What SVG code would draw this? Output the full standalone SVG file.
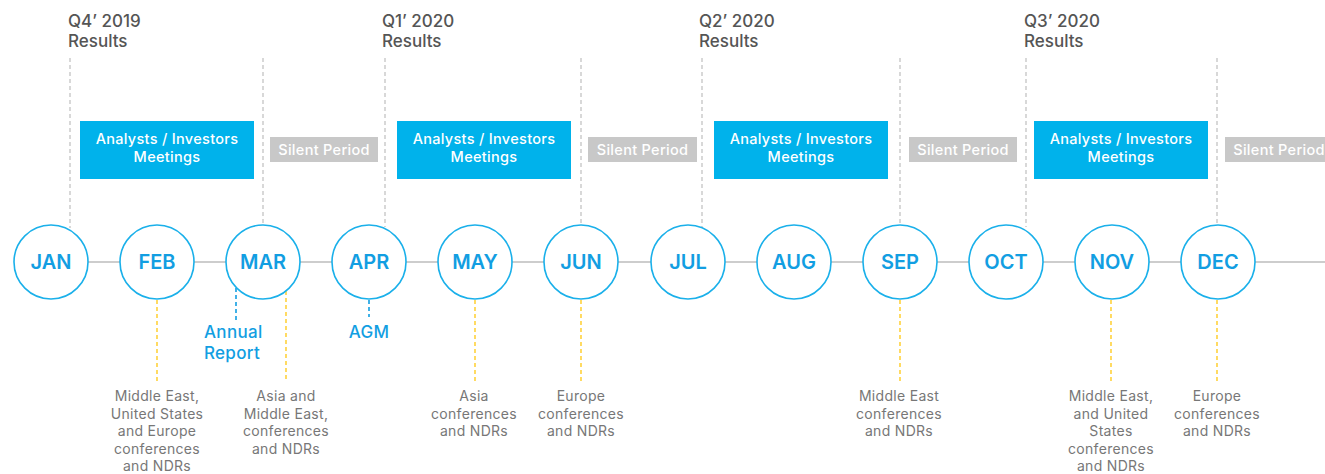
<svg xmlns="http://www.w3.org/2000/svg" width="1325" height="474" viewBox="0 0 1325 474">
<style>
.q{font-family:Inter,"Open Sans",sans-serif;font-size:17px;font-weight:500;fill:#555}
.box{fill:#00b2eb}
.sil{fill:#c8c8c8}
.bt{font-family:Inter,"Open Sans",sans-serif;font-size:14.5px;font-weight:500;fill:#fff;text-anchor:middle;letter-spacing:0.3px}
.circ{fill:#fff;stroke:#1ab0ea;stroke-width:1.6}
.m{font-family:Inter,"Open Sans",sans-serif;font-size:20px;font-weight:600;fill:#129ee2;text-anchor:middle}
.gd{stroke:#c4c4c4;stroke-width:1.3;stroke-dasharray:4 3;fill:none}
.yd{stroke:#ffd23c;stroke-width:1.6;stroke-dasharray:4 3;fill:none}
.bd{stroke:#129ee2;stroke-width:1.6;stroke-dasharray:4 3;fill:none}
.d{font-family:Inter,"Open Sans",sans-serif;font-size:14px;fill:#777;text-anchor:middle;letter-spacing:0.3px}
.ev{font-family:Inter,"Open Sans",sans-serif;font-size:17px;font-weight:500;fill:#129ee2;letter-spacing:0.3px}
</style>
<rect width="1325" height="474" fill="#fff"/>
<g id="connectors">
<line x1="51" y1="262" x2="1325" y2="262" stroke="#bdbdbd" stroke-width="1.6"/>
<path class="gd" d="M70 58V228M263 58V225M385 58V227M581 58V225M702 58V227M900 58V225M1026 58V227M1217 58V225"/>
<path class="yd" d="M157 300V381M286 291V381M475 300V381M581 300V381M900 300V381M1111 300V381M1217 300V381"/>
<path class="bd" d="M236 288V320M369 300V317"/>
</g>
<g id="quarters">
<text class="q" x="68" y="27">Q4’ 2019</text><text class="q" x="68" y="47">Results</text>
<text class="q" x="382" y="27">Q1’ 2020</text><text class="q" x="382" y="47">Results</text>
<text class="q" x="699" y="27">Q2’ 2020</text><text class="q" x="699" y="47">Results</text>
<text class="q" x="1024" y="27">Q3’ 2020</text><text class="q" x="1024" y="47">Results</text>
</g>
<g id="meetings1"><rect class="box" x="80" y="121" width="174" height="58"/><text class="bt" x="167" y="144">Analysts / Investors</text><text class="bt" x="167" y="162">Meetings</text></g>
<g id="meetings2"><rect class="box" x="397" y="121" width="174" height="58"/><text class="bt" x="484" y="144">Analysts / Investors</text><text class="bt" x="484" y="162">Meetings</text></g>
<g id="meetings3"><rect class="box" x="714" y="121" width="174" height="58"/><text class="bt" x="801" y="144">Analysts / Investors</text><text class="bt" x="801" y="162">Meetings</text></g>
<g id="meetings4"><rect class="box" x="1034" y="121" width="174" height="58"/><text class="bt" x="1121" y="144">Analysts / Investors</text><text class="bt" x="1121" y="162">Meetings</text></g>
<g id="silent1"><rect class="sil" x="270" y="137" width="108" height="25"/><text class="bt" x="324" y="154.5">Silent Period</text></g>
<g id="silent2"><rect class="sil" x="588" y="137" width="109" height="25"/><text class="bt" x="642.5" y="154.5">Silent Period</text></g>
<g id="silent3"><rect class="sil" x="909" y="137" width="108" height="25"/><text class="bt" x="963" y="154.5">Silent Period</text></g>
<g id="silent4"><rect class="sil" x="1225" y="137" width="108" height="25"/><text class="bt" x="1279" y="154.5">Silent Period</text></g>
<g id="jan"><circle class="circ" cx="51" cy="262" r="37"/><text class="m" x="51" y="269">JAN</text></g>
<g id="feb"><circle class="circ" cx="157" cy="262" r="37"/><text class="m" x="157" y="269">FEB</text></g>
<g id="mar"><circle class="circ" cx="263" cy="262" r="37"/><text class="m" x="263" y="269">MAR</text></g>
<g id="apr"><circle class="circ" cx="369" cy="262" r="37"/><text class="m" x="369" y="269">APR</text></g>
<g id="may"><circle class="circ" cx="475" cy="262" r="37"/><text class="m" x="475" y="269">MAY</text></g>
<g id="jun"><circle class="circ" cx="581" cy="262" r="37"/><text class="m" x="581" y="269">JUN</text></g>
<g id="jul"><circle class="circ" cx="688" cy="262" r="37"/><text class="m" x="688" y="269">JUL</text></g>
<g id="aug"><circle class="circ" cx="794" cy="262" r="37"/><text class="m" x="794" y="269">AUG</text></g>
<g id="sep"><circle class="circ" cx="900" cy="262" r="37"/><text class="m" x="900" y="269">SEP</text></g>
<g id="oct"><circle class="circ" cx="1006" cy="262" r="37"/><text class="m" x="1006" y="269">OCT</text></g>
<g id="nov"><circle class="circ" cx="1112" cy="262" r="37"/><text class="m" x="1112" y="269">NOV</text></g>
<g id="dec"><circle class="circ" cx="1218" cy="262" r="37"/><text class="m" x="1218" y="269">DEC</text></g>
<g id="annual-report"><text class="ev" x="204" y="338">Annual</text><text class="ev" x="204" y="359">Report</text></g>
<g id="agm"><text class="ev" x="369" y="338" text-anchor="middle">AGM</text></g>
<g id="feb-conf"><text class="d" x="157" y="401">Middle East,</text><text class="d" x="157" y="418.5">United States</text><text class="d" x="157" y="436">and Europe</text><text class="d" x="157" y="453.5">conferences</text><text class="d" x="157" y="471">and NDRs</text></g>
<g id="mar-conf"><text class="d" x="286" y="401">Asia and</text><text class="d" x="286" y="418.5">Middle East,</text><text class="d" x="286" y="436">conferences</text><text class="d" x="286" y="453.5">and NDRs</text></g>
<g id="may-conf"><text class="d" x="474" y="401">Asia</text><text class="d" x="474" y="418.5">conferences</text><text class="d" x="474" y="436">and NDRs</text></g>
<g id="jun-conf"><text class="d" x="581" y="401">Europe</text><text class="d" x="581" y="418.5">conferences</text><text class="d" x="581" y="436">and NDRs</text></g>
<g id="sep-conf"><text class="d" x="899" y="401">Middle East</text><text class="d" x="899" y="418.5">conferences</text><text class="d" x="899" y="436">and NDRs</text></g>
<g id="nov-conf"><text class="d" x="1111" y="401">Middle East,</text><text class="d" x="1111" y="418.5">and United</text><text class="d" x="1111" y="436">States</text><text class="d" x="1111" y="453.5">conferences</text><text class="d" x="1111" y="471">and NDRs</text></g>
<g id="dec-conf"><text class="d" x="1217" y="401">Europe</text><text class="d" x="1217" y="418.5">conferences</text><text class="d" x="1217" y="436">and NDRs</text></g>
</svg>
